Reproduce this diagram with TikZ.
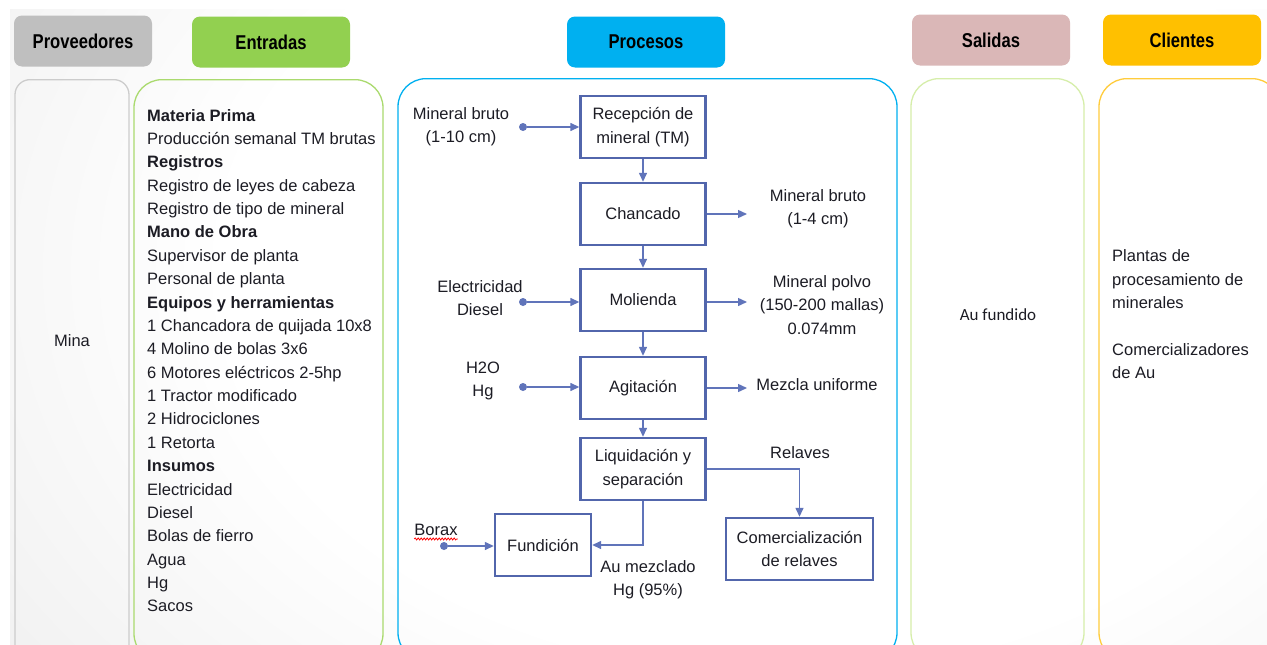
\documentclass[tikz,border=0pt]{standalone}
\usepackage{fontspec}
\setmainfont{Liberation Sans}
\newfontfamily\headfont[FakeStretch=0.83]{Liberation Sans}
\newfontfamily\calfont{Carlito}
\usepackage{tikz}
\usetikzlibrary{arrows.meta,positioning,decorations.pathmorphing}
\definecolor{txt}{RGB}{28,28,36}
\definecolor{hgris}{RGB}{191,191,191}
\definecolor{hverde}{RGB}{146,208,80}
\definecolor{hazul}{RGB}{0,176,240}
\definecolor{hrosa}{RGB}{218,183,183}
\definecolor{hnaranja}{RGB}{255,192,0}
\definecolor{fverde}{RGB}{170,218,110}
\definecolor{fverdeclaro}{RGB}{214,238,170}
\definecolor{fnaranja}{RGB}{255,204,60}
\definecolor{procblue}{RGB}{82,102,172}
\definecolor{flowblue}{RGB}{96,116,186}
\definecolor{fondo}{RGB}{220,220,220}
\pgfdeclareradialshading{fondoshade}{\pgfpoint{0bp}{0bp}}{color(0bp)=(white); color(9bp)=(white);
    color(25bp)=(fondo); color(50bp)=(fondo)}
\tikzset{
    every node/.style={font=\fontsize{16.5}{23.4}\selectfont, text=txt},
    head/.style={rounded corners=8pt, minimum width=158pt, minimum height=51pt, inner sep=0pt,
        font=\headfont\bfseries\fontsize{20}{24}\selectfont, text=black},
    frame/.style={draw, rounded corners=28pt, line width=1.3pt, minimum height=582pt, anchor=north},
    proc/.style={draw=procblue, line width=2.4pt, minimum width=125pt, minimum height=62pt,
        align=center, inner sep=0pt},
    flow/.style={draw=flowblue, line width=1.4pt, -{Triangle[length=9pt,width=8pt]}},
    dot/.style={circle, fill=flowblue, inner sep=0pt, minimum size=8pt},
    lbl/.style={align=center, inner sep=0pt}
}

\begin{document}
\begin{tikzpicture}[x=1pt, y=-1pt]

    \useasboundingbox (0,0) rectangle (1267,645);
    \begin{scope}
        \clip (10,9) rectangle (1267,645);
        \fill[fondo] (10,9) rectangle (1267,645);
        \shade[shading=fondoshade] (780,270) ellipse [x radius=1540, y radius=1100];
    \end{scope}

    % column headers
    \node[head, fill=hgris, minimum width=138pt] (hprov) at (83,41) {Proveedores};
    \node[head, fill=hverde] (hent) at (271,42) {Entradas};
    \node[head, fill=hazul] (hproc) at (646,42) {Procesos};
    \node[head, fill=hrosa] (hsal) at (991,40) {Salidas};
    \node[head, fill=hnaranja] (hcli) at (1182,40) {Clientes};

    % column frames
    \node[frame, draw=hgris!80, rounded corners=15pt, minimum width=114pt] (cprov) at (72,79) {};
    \node[frame, draw=fverde, minimum width=249pt] (cent) at (258.5,79) {};
    \node[frame, draw=hazul, minimum width=499pt] (cproc) at (647.5,78) {};
    \node[frame, draw=fverdeclaro, minimum width=173pt] (csal) at (997.5,78) {};
    \node[frame, draw=fnaranja, minimum width=181pt] (ccli) at (1189.5,78) {};

    \node (mina) at (72,341) {Mina};

    \foreach \t [count=\i] in {{\textbf{Materia Prima}}, Producción semanal TM brutas,
        {\textbf{Registros}}, Registro de leyes de cabeza, Registro de tipo de mineral,
        {\textbf{Mano de Obra}}, Supervisor de planta, Personal de planta,
        {\textbf{Equipos y herramientas}}, 1 Chancadora de quijada 10x8, 4 Molino de bolas 3x6,
        6 Motores eléctricos 2-5hp, 1 Tractor modificado, 2 Hidrociclones, 1 Retorta,
        {\textbf{Insumos}}, Electricidad, Diesel, Bolas de fierro, Agua, Hg, Sacos}
        \node[anchor=base west, inner sep=0pt] (ent\i) at (147,{121+23.38*(\i-1)}) {\t};

    % process chain
    \node[proc] (rec) at (643,127) {Recepción de\\mineral (TM)};
    \node[proc] (chan) at (643,214) {Chancado};
    \node[proc] (mol) at (643,300) {Molienda};
    \node[proc] (agi) at (643,388) {Agitación};
    \node[proc] (liq) at (643,469) {Liquidación y\\separación};
    \node[proc, minimum width=96pt] (fun) at (543,545) {Fundición};
    \node[proc, minimum width=147pt] (com) at (799.5,549) {Comercialización\\de relaves};

    \node[lbl] (in1) at (461,127) {Mineral bruto\\(1-10 cm)};
    \node[lbl] (in2) at (480,298) {Electricidad\\Diesel};
    \node[lbl] (in3) at (483,381) {H2O\\Hg};
    \node[lbl] (bor) at (436,530) {Borax};
    \draw[red, line width=0.8pt, decorate, decoration={snake, amplitude=1pt, segment length=3pt}]
        ([yshift=-3pt]bor.south west) -- ([yshift=-3pt]bor.south east);

    \node[lbl] (out1) at (818,209) {Mineral bruto\\(1-4 cm)};
    \node[lbl] (out2) at (822,305) {Mineral polvo\\(150-200\hspace{5pt}mallas)\\0.074mm};
    \node[lbl] (out3) at (817,385) {Mezcla uniforme};
    \node[lbl] (rel) at (800,453) {Relaves};
    \node[lbl] (aum) at (648,580) {Au mezclado\\Hg (95\%)};

    \node[dot] (d1) at (523,127) {};
    \node[dot] (d2) at (523,302) {};
    \node[dot] (d3) at (523,387) {};
    \node[dot] (d4) at (444,546) {};

    \coordinate (o1) at (747,214);
    \coordinate (o2) at (747,302);
    \coordinate (o3) at (747,388);

    \draw[flow] (d1) -- (rec);
    \draw[flow] (d2) -- (d2 -| mol.west);
    \draw[flow] (d3) -- (d3 -| agi.west);
    \draw[flow] (d4) -- (d4 -| fun.west);
    \draw[flow] (rec) -- (chan);
    \draw[flow] (chan) -- (mol);
    \draw[flow] (mol) -- (agi);
    \draw[flow] (agi) -- (liq);
    \draw[flow] (chan.east) -- (o1);
    \draw[flow] (mol.east |- o2) -- (o2);
    \draw[flow] (agi.east) -- (o3);
    \draw[flow] (liq.east) -| (com.north);
    \draw[flow] (liq.south) |- (fun.east);

    \node (aufun) at (998,315) {\calfont\fontsize{17}{20}\selectfont Au fundido};
    \node[anchor=west, align=left, inner sep=0pt] (cli) at (1112,314.5)
        {Plantas de\\procesamiento de\\minerales\\[23.4pt]Comercializadores\\de Au};

\end{tikzpicture}
\end{document}
